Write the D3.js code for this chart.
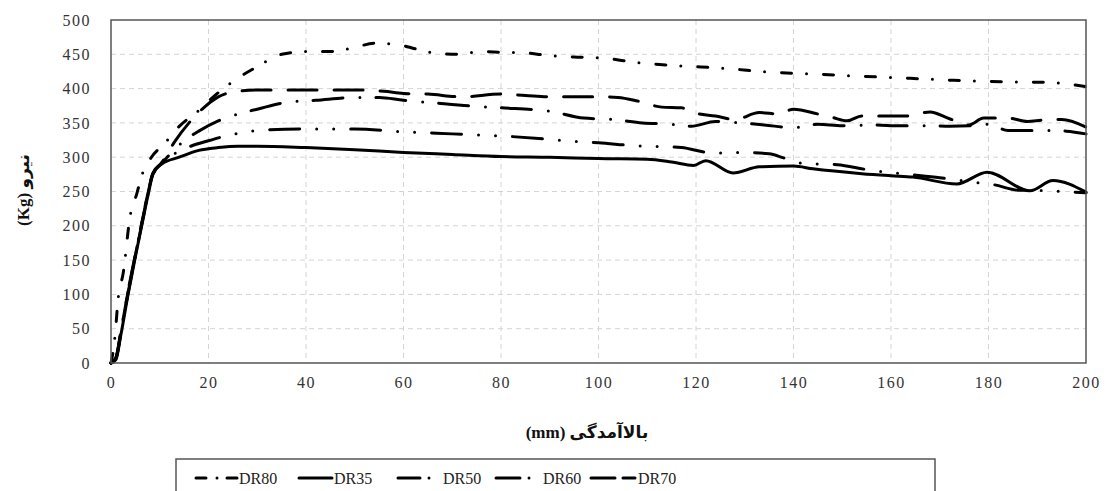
<!DOCTYPE html>
<html><head><meta charset="utf-8">
<script src="https://cdn.jsdelivr.net/npm/d3@7"></script>
<style>body{margin:0;background:#fff}svg{display:block}
.serif{font-family:"Liberation Serif","Times New Roman","DejaVu Serif",serif}
.fa{font-family:"Liberation Serif","DejaVu Sans",serif;font-weight:bold}
</style>
</head><body><svg id="c" width="1112" height="491"></svg>
<script>
const seriesNames = ["DR80","DR35","DR50","DR60","DR70"];
const xTicks = [0,20,40,60,80,100,120,140,160,180,200];
const yTicks = [0,50,100,150,200,250,300,350,400,450,500];
const xTitle = "بالاآمدگی (mm)";
const yTitle = "نیرو (Kg)";

const dr80 = [[0,0],[0.5,20],[0.8,38],[1.5,96],[2.5,131],[3.9,213],[5.3,247],[6.3,273],[8.3,300],[11,320],[14,345],[18,368],[21,388],[26,415],[30,432],[35,450],[40,454],[45,454],[50,460],[54,466],[58,465],[63,457],[67,451],[71,450],[76,454],[80,453],[85,452],[90,448],[95,446],[100,445],[108,438],[117,433],[125,430],[135,424],[145,421],[154,418],[164,415],[173,412],[183,410],[192,409],[200,403]];
const dr35 = [[0,0],[1,5],[2,40],[3.5,100],[5,155],[6.3,200],[7.6,245],[8.6,275],[10.4,290],[14,300],[18,310],[22,314],[26,316],[30,316],[40,314],[50,311],[60,307],[70,304],[80,301],[90,300],[100,298],[110,297],[115,293],[119.5,288],[122,295],[127.6,277],[133,286],[140,287],[144,283],[154,276],[160,273],[164.5,271],[173.5,261],[179.7,278],[188.5,251],[193.2,266],[200,249]];
const dr50 = [[0,0],[1,8],[2,45],[3.5,105],[5,158],[6.3,205],[7.6,248],[8.6,277],[10.4,292],[13,305],[16,315],[20,324],[23,330],[27,336],[32,340],[40,341],[50,341],[60,337],[70,334],[80,331],[90,326],[95,323],[100,321],[107,317],[117,314],[123.5,306],[129,307],[135,305],[138,299],[142,291],[149,289],[155,282],[162,276],[170,270],[177.6,263],[181,260],[186,252],[192.6,251],[200,248]];
const dr60 = [[0,0],[1,6],[2,42],[3.5,102],[5,156],[6.3,202],[7.6,246],[8.6,276],[10.4,291],[14,318],[18,338],[22,353],[26,363],[30,370],[36,380],[42,383],[50,387],[55,387],[60,383],[65,380],[75,374],[80,372],[90,367],[97,357],[103,355],[109,350],[115,348],[119,345],[124,352],[129,350],[134,347],[140,343],[145,348],[150,346],[156,347],[160,346],[167,346],[172,345],[177,346],[180,348],[184,339],[188,339],[192,339],[196,338],[200,334]];
const dr70 = [[0,0],[1,7],[2,44],[3.5,104],[5,157],[6.3,204],[7.6,247],[8.6,277],[10.4,292],[13,322],[16,350],[19,372],[22,388],[26,396],[30,398],[40,398],[50,398],[56,396],[60,393],[65,392],[72,388],[80,392],[85,390],[90,388],[95,388],[100,388],[104,387],[108,382],[113,373],[117,372],[120,364],[124,360],[128,355],[133,365],[137,363],[140,370],[145,363],[148,358],[151,353],[154,360],[158,360],[163,360],[168,366],[172,356],[176,347],[179,357],[184,357],[188,352],[191,354],[195,355],[200,344]];

const seriesData = [dr80, dr35, dr50, dr60, dr70];
const dashes = ["10,15,0,17", null, "30,17,0,17,0,17", "30,17,0,16", "29,17"];
const legendDashes = ["10,11,0,10,12", null, "22,9,0,20", "24,9,0,20", "24,8,12"];

const svg = d3.select("#c");
const L = 111, R = 1086, T = 20, B = 363;
const x = d3.scaleLinear().domain([0,200]).range([L,R]);
const y = d3.scaleLinear().domain([0,500]).range([B,T]);

// grid
const g = svg.append("g");
g.selectAll(".vg").data(xTicks.slice(1,-1)).join("line")
  .attr("x1",d=>x(d)).attr("x2",d=>x(d)).attr("y1",T).attr("y2",B)
  .attr("stroke","#d4d4d4").attr("stroke-width",1).attr("stroke-dasharray","5,4");
g.selectAll(".hg").data(yTicks.slice(1,-1)).join("line")
  .attr("x1",L).attr("x2",R).attr("y1",d=>y(d)).attr("y2",d=>y(d))
  .attr("stroke","#d4d4d4").attr("stroke-width",1).attr("stroke-dasharray","5,4");

// axes labels via d3 axes
const xAxis = svg.append("g").attr("transform",`translate(0,${B})`)
  .call(d3.axisBottom(x).tickValues(xTicks).tickSize(0).tickPadding(14));
const yAxis = svg.append("g").attr("transform",`translate(${L},0)`)
  .call(d3.axisLeft(y).tickValues(yTicks).tickSize(0).tickPadding(20));
[xAxis,yAxis].forEach(a=>{
  a.attr("font-family",null).attr("font-size",null);
  a.select(".domain").remove();
  a.selectAll("text").attr("class","serif").style("font-size","16px")
    .attr("fill","#333").style("letter-spacing","1.5px");
});

// lines
const line = d3.line().x(d=>x(d[0])).y(d=>y(d[1])).curve(d3.curveMonotoneX);
svg.append("g").selectAll("path").data(seriesData).join("path")
  .attr("d",line).attr("fill","none").attr("stroke","#000").attr("stroke-width",3)
  .attr("stroke-linecap","round").attr("stroke-linejoin","round")
  .attr("stroke-dasharray",(d,i)=>dashes[i]);

// frame
svg.append("rect").attr("x",L).attr("y",T).attr("width",R-L).attr("height",B-T)
  .attr("fill","none").attr("stroke","#555").attr("stroke-width",1.5);

// titles
svg.append("text").attr("class","fa").attr("x",587).attr("y",438).attr("text-anchor","middle")
  .attr("direction","rtl").style("font-size","17px").attr("fill","#111").text(xTitle);
svg.append("text").attr("class","fa").attr("transform","translate(29,190) rotate(-90)").attr("text-anchor","middle")
  .attr("direction","rtl").style("font-size","17px").attr("fill","#111").text(yTitle);

// legend
svg.append("rect").attr("x",176).attr("y",459).attr("width",759).attr("height",40)
  .attr("fill","#fff").attr("stroke","#555").attr("stroke-width",1.5);
const legendX = [196, 299, 398, 496, 591];
const sampleLen = [41, 33, 34, 36, 44];
const textOff = [43, 35, 45, 47, 47];
const lg = svg.append("g").selectAll("g").data(seriesNames).join("g")
  .attr("transform",(d,i)=>`translate(${legendX[i]},478)`);
lg.append("line").attr("x1",0).attr("x2",(d,i)=>sampleLen[i]).attr("y1",0).attr("y2",0)
  .attr("stroke","#000").attr("stroke-width",3).attr("stroke-linecap","round")
  .attr("stroke-dasharray",(d,i)=>legendDashes[i]);
lg.append("text").attr("class","serif").attr("x",(d,i)=>textOff[i]).attr("y",6)
  .style("font-size","16px").attr("fill","#222").text(d=>d);
</script></body></html>
